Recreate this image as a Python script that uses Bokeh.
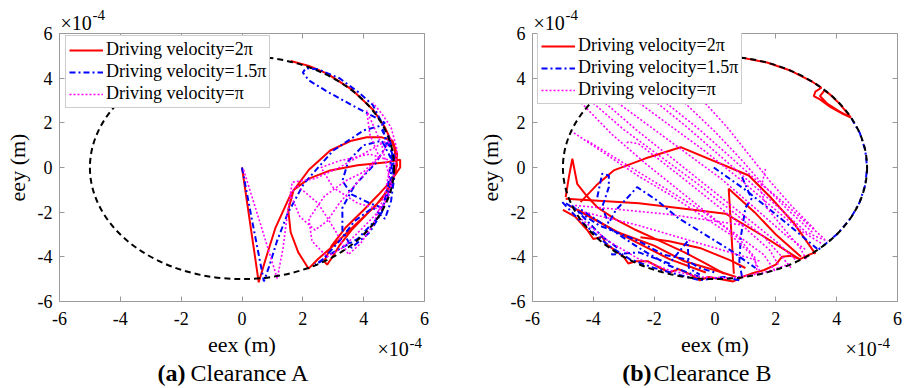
from bokeh.plotting import figure
from bokeh.layouts import row, column
from bokeh.models import FixedTicker, LinearAxis, Range1d
from bokeh.core.properties import value
from bokeh.embed import file_html
from bokeh.resources import INLINE

# ---------------- data (units of 1e-4 m) ----------------
tick_values = [-6, -4, -2, 0, 2, 4, 6]
tick_labels = ["-6", "-4", "-2", "0", "2", "4", "6"]
clearance_diameter = 10.0
series_names = ["Driving velocity=2\u03c0", "Driving velocity=1.5\u03c0", "Driving velocity=\u03c0"]
caption_tags = ["(a)", "(b)"]
caption_texts = ["Clearance A", "Clearance B"]
exponent_base = "\u00d710"
exponent_power = "-4"

# Clearance A
a_red_x = [0, 0.55, 0.8, 1.1, 1.6, 2.2, 2.9, 3.6, 4.1, 4.6, 4.95, 5.1, 5.05, 4.8, 4.4, 3.7, 3.0, 2.5, 2.19,
           1.85, 1.6, 1.52, 1.7, 2.2, 2.9, 3.8, 4.77, 5.2, 5.2, 4.9, 4.5, 4.0, 3.4, 2.95, 2.7, 2.8, 2.95,
           3.2, 3.6, 4.1, 4.6, 4.9, 5.1, 5.0, 4.7, 4.3, 3.6, 2.8, 2.2, 1.6]
a_red_y = [0, -5.14, -4.0, -2.7, -1.2, -0.1, 0.76, 1.2, 1.35, 1.35, 1.2, 0.6, -0.2, -1.0, -1.7, -2.6, -3.5, -4.1, -4.53,
           -3.8, -2.9, -1.9, -1.0, -0.5, -0.13, 0.1, 0.24, 0.35, 0.0, -0.6, -1.2, -1.9, -2.7, -3.5, -4.2, -4.35, -4.05,
           -3.5, -2.8, -2.1, -1.4, -0.7, 0.1, 0.9, 1.8, 2.6, 3.5, 4.2, 4.55, 4.77]

a_blue_x = [0, 0.35, 0.72, 0.9, 1.15, 1.5, 2.03, 3.0, 4.0, 4.5, 4.7, 4.3, 3.6, 2.8, 2.2, 2.0, 2.1, 2.5, 3.2, 3.8,
            4.3, 4.6, 4.75, 4.4, 3.7, 3.3, 3.3, 3.6, 4.2, 4.6, 4.8, 4.9, 4.6, 4.0, 3.5, 3.3, 3.6, 4.2, 4.6, 4.9,
            5.0, 4.8, 4.95, 4.85, 4.5, 3.8, 3.0, 2.4, 2.6, 3.2, 3.7, 4.3, 4.7, 4.9, 5.0, 4.9, 4.6]
a_blue_y = [0, -2.5, -5.1, -4.4, -3.3, -2.06, -0.73, 0.76, 1.66, 1.85, 2.0, 2.3, 2.8, 3.4, 3.9, 4.25, 4.45, 4.4, 4.0, 3.4,
            2.8, 2.0, 1.0, 0.2, -0.8, -1.8, -2.8, -3.6, -2.9, -2.0, -0.8, 0.4, 1.2, 1.0, 0.3, -0.6, -1.2, -1.6, -1.8, -1.0,
            0.5, 1.5, 0.5, -1.0, -2.2, -3.2, -3.8, -4.35, -4.2, -3.3, -2.4, -1.8, -2.3, -1.5, -0.5, 0.8, 1.7]

a_mag_x = [0.05, 0.6, 1.16, 1.35, 1.5, 1.65, 2.4, 3.2, 4.3, 4.9, 4.6, 3.9, 3.2, 2.8, 2.4, 1.9, 1.6, 1.8, 2.5, 3.1,
           3.5, 3.9, 4.3, 4.7, 4.9, 4.2, 3.2, 2.6, 3.0, 3.8, 4.6, 4.9, 4.6, 4.1, 4.2, 4.5, 4.0, 3.4, 2.7, 2.2,
           2.3, 2.8, 3.3, 3.9, 4.4, 4.8, 5.0, 5.1, 4.9, 4.6, 4.3]
a_mag_y = [-0.1, -2.5, -4.97, -3.6, -2.0, -0.66, -0.5, 0.0, 0.85, 1.3, 0.6, -0.5, -1.6, -2.4, -2.8, -2.2, -1.2, -0.8, -1.6, -2.9,
           -3.9, -3.4, -2.6, -1.2, 0.3, 0.6, 0.3, 0.0, -0.9, -1.6, -1.9, -0.8, 1.0, 2.55, 1.5, 0.5, -0.2, -0.6, -1.3, -2.3,
           -3.3, -4.0, -3.6, -2.8, -2.1, -1.4, -0.3, 0.8, 1.8, 2.4, 2.9]

# Clearance B (segments)
b_red_xs = [
    [-0.87, 0, 0.87, 1.71, 2.5, 3.21, 3.5, 3.3, 3.25, 3.45, 3.8, 4.2, 4.47, 4.1, 3.7, 3.45, 3.6, 3.8, 4.1, 4.47],
    [-4.91, -4.8, -4.69, -4.53, -4.2, -3.87, -3.3, -2.6, -1.8, -1.0, -0.3, 0.3],
    [-4.42, -3.9, -3.33, -2.3, -1.13, 1.11, 1.8, 2.6, 3.3],
    [-4.91, -2.5, 0.35, 1.5, 2.76],
    [0.62, 0.45, 1.3, 2.0, 2.83],
    [-5.0, -4.6, -4.2, -4.0, -3.7, -3.6, -3.3, -3.0, -2.85, -2.6, -2.2, -1.8, -1.5, -1.2, -0.8, -0.5, -0.2, 0.2,
     0.6, 0.9, 1.2, 1.6, 2.0, 2.2, 2.5, 2.8, 3.1, 3.3],
    [-0.3, -1.5, -2.8, -4.0, -4.8],
    [-2.45, -1.5, -0.5, 0.51, 1.0],
    [-4.5, -3.2, -2.0, -1.0, 0.0, 0.7],
]
b_red_ys = [
    [4.92, 5.0, 4.92, 4.70, 4.33, 3.83, 3.57, 3.4, 3.2, 3.05, 2.7, 2.4, 2.23, 2.5, 2.85, 3.2, 3.45, 3.25, 2.85, 2.23],
    [-1.33, -0.4, 0.39, -0.73, -1.3, -1.78, -2.3, -2.8, -3.3, -3.8, -4.3, -4.75],
    [-1.55, -0.8, -0.13, 0.4, 0.91, -0.36, -1.3, -2.5, -3.87],
    [-1.4, -1.6, -2.07, -3.0, -4.09],
    [-4.76, -0.95, -2.0, -3.0, -4.0],
    [-1.9, -2.2, -2.8, -3.2, -3.1, -3.4, -3.7, -4.0, -4.3, -4.2, -4.2, -4.5, -4.7, -4.55, -4.8, -5.05, -4.9, -5.0,
     -5.1, -4.9, -4.75, -4.6, -4.35, -4.0, -3.95, -4.1, -3.9, -3.8],
    [-4.7, -4.1, -3.2, -2.3, -1.7],
    [-3.12, -3.3, -3.6, -4.16, -4.5],
    [-1.9, -2.9, -3.5, -4.2, -4.6, -4.9],
]

b_blue_xs = [
    [4.49, 4.76, 4.94, 5.0, 4.94, 4.76, 4.46, 4.05, 3.55, 3.4],
    [-0.04, 1.0, 2.0, 2.8, 3.36],
    [0.89, 1.2, 1.0, 0.85, 0.8, 0.9],
    [-3.87, -3.71, -3.49, -3.49, -3.71, -3.5, -3.27, -2.56, -1.9, -1.24, -0.37, 0.5, 1.33],
    [-5.02, -4.5, -4.0, -3.5, -2.8, -2.0, -1.2, -0.5, 0.3, 0.8],
    [-4.9, -3.8, -2.5, -1.7, -1.0, -0.5, 0.0],
    [-4.7, -3.7, -3.2, -3.4, -2.5, -1.5, -0.9, -0.86, -0.5],
    [-0.5, -1.5, -2.5, -3.5, -4.5],
]
b_blue_ys = [
    [2.19, 1.55, 0.78, 0.0, -0.78, -1.55, -2.27, -2.94, -3.52, -3.67],
    [0.0, -1.0, -2.1, -3.0, -3.64],
    [-0.43, -1.4, -1.8, -3.1, -4.2, -5.0],
    [-1.33, -0.28, -0.36, -0.88, -1.78, -2.5, -1.93, -0.88, -1.48, -2.23, -2.97, -3.7, -4.5],
    [-1.55, -2.3, -2.9, -3.5, -4.1, -4.5, -4.8, -5.05, -4.9, -5.05],
    [-1.6, -2.6, -3.3, -3.9, -4.1, -4.5, -4.7],
    [-1.7, -3.1, -3.6, -3.9, -3.8, -4.3, -3.3, -4.5, -4.8],
    [-4.9, -4.4, -3.6, -2.7, -1.8],
]

b_mag_xs = [
    [-4.75, -3.7, -2.5, -1.5, -0.5, 0.5, 1.2, 1.5],
    [-4.1, -3.0, -1.8, -0.6, 0.6, 1.6, 2.2, 2.5],
    [-3.3, -2.2, -1.0, 0.2, 1.3, 2.3, 3.0],
    [-2.6, -1.6, -0.4, 0.8, 1.9, 2.9, 3.5],
    [-1.7, -0.6, 0.4, 1.3, 2.2, 3.1, 3.6],
    [-1.0, 0.0, 0.9, 1.6, 2.4, 3.2],
    [-4.4, -3.4, -2.3, -1.3, -0.2, 0.8, 1.3, 1.4],
    [-2.9, -2.85, -2.5, -1.5, -0.3, 0.9, 1.8, 2.1],
    [1.66, 1.5, 1.7, 2.3, 2.8, 3.0],
    [-4.6, -3.0, -1.5, 0.0, 1.0],
    [-4.3, -2.5, -1.0, 0.5, 1.5],
    [-4.5, -3.5, -2.5, -1.5, -0.5, 0.5, 1.5, 2.5],
    [-3.7, -2.6, -1.4, -0.2, 1.0, 2.0, 2.7],
    [-2.0, -1.0, 0.1, 1.1, 2.1, 3.0, 3.7],
    [-0.4, 0.4, 1.1, 1.8, 2.5, 3.3],
    [-4.2, -3.0, -1.8, -0.6, 0.6, 1.6, 2.0],
]
b_mag_ys = [
    [1.65, 0.7, -0.4, -1.2, -2.1, -3.0, -3.9, -4.7],
    [3.0, 1.7, 0.5, -0.7, -2.0, -3.1, -4.0, -4.5],
    [3.0, 1.9, 0.7, -0.5, -1.8, -3.0, -3.7],
    [3.0, 2.0, 0.8, -0.5, -1.8, -2.9, -3.4],
    [3.0, 1.8, 0.6, -0.5, -1.5, -2.6, -3.2],
    [2.9, 1.6, 0.3, -0.8, -1.9, -2.9],
    [2.9, 1.5, 0.2, -0.9, -2.1, -3.2, -4.0, -4.8],
    [1.1, 1.15, 1.05, 0.0, -1.3, -2.6, -3.7, -4.4],
    [-0.06, -1.0, -1.8, -2.8, -3.6, -4.1],
    [-1.7, -1.9, -2.1, -2.4, -2.6],
    [-2.0, -2.6, -3.2, -3.8, -4.2],
    [-2.2, -3.3, -4.1, -4.6, -4.9, -4.95, -4.75, -4.3],
    [3.0, 1.7, 0.4, -0.9, -2.2, -3.3, -4.2],
    [3.0, 1.9, 0.6, -0.6, -1.8, -2.9, -3.3],
    [3.0, 1.8, 0.6, -0.6, -1.7, -2.8],
    [1.2, 0.2, -0.8, -1.8, -2.9, -3.9, -4.7],
]

panels = [
    dict(red=([a_red_x], [a_red_y]), blue=([a_blue_x], [a_blue_y]), mag=([a_mag_x], [a_mag_y])),
    dict(red=(b_red_xs, b_red_ys), blue=(b_blue_xs, b_blue_ys), mag=(b_mag_xs, b_mag_ys)),
]

# ---------------- styling ----------------
SERIF = "Liberation Serif"
GRAY = "#9a9a9a"
H = 388


def no_align(fig):
    try:
        fig.frame_align = False
    except Exception:
        pass


def make_panel(i, data):
    left = 59 if i == 0 else 76
    right = 32 if i == 0 else 16
    W = left + 365 + right
    legend_pos = (6, 193) if i == 0 else (5, 197)
    p = figure(frame_width=365, frame_height=268, min_border_left=left, min_border_right=right,
               min_border_top=33, min_border_bottom=87, x_range=Range1d(-6, 6), y_range=Range1d(-6, 6),
               output_backend="svg", toolbar_location=None, background_fill_color="white",
               border_fill_color="white")
    no_align(p)
    p.grid.visible = False
    p.outline_line_color = GRAY
    p.outline_line_width = 1

    xs, ys = data["red"]
    p.multi_line(xs, ys, line_color="#ff0000", line_width=2, legend_label=series_names[0])
    xs, ys = data["blue"]
    p.multi_line(xs, ys, line_color="#0000ff", line_width=2, line_dash="6 3 2 3", legend_label=series_names[1])
    xs, ys = data["mag"]
    p.multi_line(xs, ys, line_color="#ff00ff", line_width=1.6, line_dash="2 2", legend_label=series_names[2])
    p.ellipse(x=0, y=0, width=clearance_diameter, height=clearance_diameter, fill_color=None,
              line_color="black", line_width=2, line_dash="6 4")

    overrides = {v: t for v, t in zip(tick_values, tick_labels)}
    for ax in (p.xaxis[0], p.yaxis[0]):
        ax.ticker = FixedTicker(ticks=tick_values)
        ax.major_label_overrides = overrides
        ax.minor_tick_line_color = None
        ax.major_tick_in = 5
        ax.major_tick_out = 0
        ax.major_tick_line_color = GRAY
        ax.axis_line_color = None
        ax.major_label_text_font = SERIF
        ax.major_label_text_font_size = "18px"
        ax.major_label_text_color = "black"
        ax.axis_label_text_font = SERIF
        ax.axis_label_text_font_size = "22px"
        ax.axis_label_text_font_style = "normal"
        ax.axis_label_text_color = "black"
    p.xaxis[0].major_label_standoff = 10
    p.yaxis[0].major_label_standoff = 7
    p.xaxis[0].axis_label = "eex (m)"
    p.yaxis[0].axis_label = "eey (m)"
    p.xaxis[0].axis_label_standoff = 4
    p.yaxis[0].axis_label_standoff = 5

    # mirrored tick marks on the top and right edges (no labels)
    for loc in ("above", "right"):
        ax = LinearAxis(ticker=FixedTicker(ticks=tick_values), major_label_text_font_size="1px",
                        major_label_text_color=None,
                        major_tick_in=5, major_tick_out=0, minor_tick_line_color=None,
                        major_tick_line_color=GRAY, axis_line_color=None, major_label_standoff=0)
        p.add_layout(ax, loc)

    lg = p.legend[0]
    lg.location = legend_pos
    lg.margin = 0
    lg.padding = 3
    lg.spacing = 1
    lg.label_height = 20
    lg.glyph_height = 20
    lg.glyph_width = 34
    lg.label_standoff = 3
    lg.label_text_font = SERIF
    lg.label_text_font_size = "18px"
    lg.label_text_color = "black"
    lg.border_line_color = GRAY
    lg.border_line_width = 1
    lg.background_fill_color = "white"
    lg.background_fill_alpha = 1.0

    # transparent overlay (pixel coordinates) for texts outside the plot frame
    o = figure(width=W, height=H, x_range=Range1d(0, W), y_range=Range1d(H, 0),
               min_border=0, min_border_left=0, min_border_right=0, min_border_top=0, min_border_bottom=0,
               x_axis_location=None, y_axis_location=None, output_backend="svg", toolbar_location=None,
               background_fill_alpha=0, border_fill_alpha=0, outline_line_color=None,
               styles={"margin-top": "-%dpx" % H})
    no_align(o)
    o.title.visible = False
    o.grid.visible = False
    if i == 0:
        bx, px_, ex, epx, cbx, ccx = 60, 92, 377, 409, 185, 190
    else:
        bx, px_, ex, epx, cbx, ccx = 77, 109, 389, 421, 195, 197
    # anchors are the visual centres of the text lines
    o.text(x=[bx, ex], y=[22, 348], text=[exponent_base, exponent_base], text_font=value(SERIF),
           text_font_size=value("20px"), text_align="left", text_baseline="alphabetic", text_color="black")
    o.text(x=[px_, epx], y=[14, 342], text=[exponent_power, exponent_power], text_font=value(SERIF),
           text_font_size=value("15px"), text_align="left", text_baseline="alphabetic", text_color="black")
    o.text(x=[cbx], y=[372], text=[caption_tags[i]], text_font=value(SERIF), text_font_size=value("24px"),
           text_font_style="bold", text_align="right", text_baseline="alphabetic", text_color="black")
    o.text(x=[ccx], y=[372], text=[caption_texts[i]], text_font=value(SERIF), text_font_size=value("24px"),
           text_align="left", text_baseline="alphabetic", text_color="black")
    return column(p, o, spacing=0)


cols = [make_panel(i, d) for i, d in enumerate(panels)]
layout = row(*cols, spacing=0)
open("out.html", "w").write(file_html(layout, INLINE))
